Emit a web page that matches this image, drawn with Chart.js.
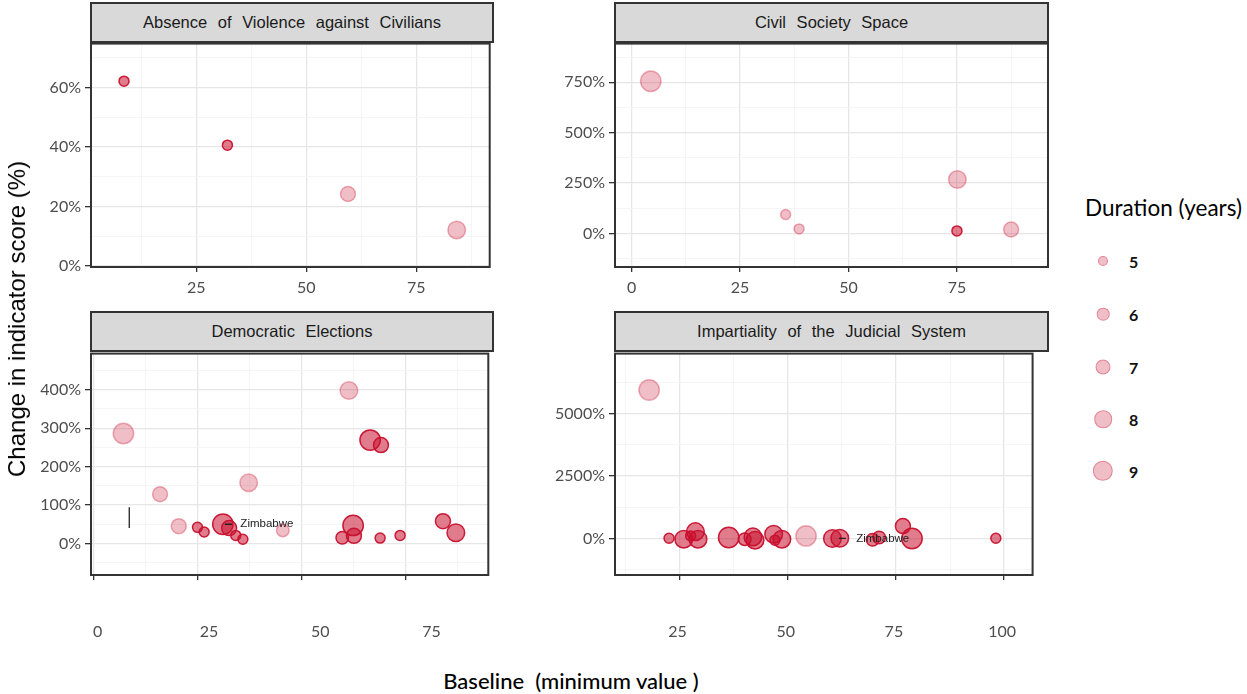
<!DOCTYPE html>
<html>
<head>
<meta charset="utf-8">
<script src="https://cdn.jsdelivr.net/npm/chart.js@4.4.1/dist/chart.umd.min.js"></script>
<style>
html,body{margin:0;padding:0;background:#fff;}
body{width:1247px;height:694px;position:relative;overflow:hidden;font-family:Lato,"Open Sans",sans-serif;}
canvas{position:absolute;}
.strip{position:absolute;box-sizing:border-box;border:2px solid #333;background:#D9D9D9;font-family:"Liberation Sans",Arial,sans-serif;font-size:16.5px;color:#1a1a1a;display:flex;align-items:center;justify-content:center;word-spacing:6px;z-index:2;white-space:pre;}
#ytitle{position:absolute;left:17px;top:319px;transform:translate(-50%,-50%) rotate(-90deg);font-family:"Liberation Sans",Arial,sans-serif;font-size:24px;color:#000;white-space:nowrap;}
#xtitle{position:absolute;left:571px;top:680px;transform:translate(-50%,-50%);font-family:Lato,sans-serif;font-size:22px;font-weight:500;color:#000;white-space:pre;}
#legtitle{position:absolute;left:1085px;top:207px;transform:translateY(-50%);font-family:Lato,sans-serif;font-size:22.5px;color:#000;white-space:nowrap;}
.legkey{position:absolute;box-sizing:border-box;border-radius:50%;transform:translate(-50%,-50%);}
.leglab{position:absolute;transform:translateY(-50%);font-family:Lato,sans-serif;font-size:16px;font-weight:700;color:#111;}
</style>
</head>
<body>
<canvas id="c1"></canvas>
<canvas id="c2"></canvas>
<canvas id="c3"></canvas>
<canvas id="c4"></canvas>
<div id="ytitle">Change in indicator score (%)</div>
<div id="xtitle">Baseline  (minimum value )</div>
<div id="legtitle">Duration (years)</div>
<div id="legend"></div>
<script>
// ---------------- DATA ----------------
const panelTitles = ["Absence of Violence against Civilians", "Civil Society Space", "Democratic Elections", "Impartiality of the Judicial System"];

const violenceBaseline  = [8.6, 32.1, 59.5, 84.2];
const violenceChange    = [62.1, 40.6, 24.2, 12.1];
const violenceDuration  = [5, 5, 7, 8];
const violenceHighlight = [1, 1, 0, 0];

const civilBaseline  = [4.4, 35.5, 38.6, 75.1, 75.0, 87.5];
const civilChange    = [755, 94, 23, 268, 13, 20];
const civilDuration  = [9, 5, 5, 8, 5, 7];
const civilHighlight = [0, 0, 0, 0, 1, 0];

const electionsBaseline  = [7.2, 16.0, 20.5, 37.3, 45.5, 61.4, 25.0, 26.6, 31.1, 32.6, 34.2, 35.9, 59.8, 62.4, 62.6, 66.5, 68.9, 69.1, 73.7, 84.0, 87.1];
const electionsChange    = [286, 128, 45, 158, 34, 398, 42, 30, 50, 40, 21, 11, 15, 47, 20, 269, 14, 256, 21, 58, 28];
const electionsDuration  = [9, 7, 7, 8, 6, 8, 5, 5, 9, 7, 5, 5, 6, 9, 7, 9, 5, 7, 5, 7, 8];
const electionsHighlight = [0, 0, 0, 0, 0, 0, 1, 1, 1, 1, 1, 1, 1, 1, 1, 1, 1, 1, 1, 1, 1];

const judicialBaseline  = [17.9, 22.5, 25.9, 27.5, 28.6, 29.2, 36.3, 40.0, 41.9, 42.4, 46.7, 47.0, 48.6, 54.2, 60.3, 62.0, 69.6, 71.1, 76.6, 78.7, 98.1];
const judicialChange    = [5948, 10, -26, 105, 276, -26, 40, -26, 66, -66, 171, -66, -26, 105, 0, 13, -50, 40, 500, 0, 13];
const judicialDuration  = [9, 5, 8, 5, 8, 8, 9, 6, 8, 8, 8, 5, 8, 9, 8, 8, 6, 6, 7, 9, 5];
const judicialHighlight = [0, 1, 1, 1, 1, 1, 1, 1, 1, 1, 1, 1, 1, 0, 1, 1, 1, 1, 1, 1, 1];

// label-repel segments [x0, y0, x1, y1] and labels
const electionsSegments = [[8.6, 40, 8.6, 94], [31.6, 50, 33.3, 50]];
const electionsLabels   = [["Zimbabwe", 35.3, 50]];
const judicialSegments  = [[61.8, 8, 63.4, 8]];
const judicialLabels    = [["Zimbabwe", 65.8, 8]];

const durationLevels = [5, 6, 7, 8, 9];

// ---------------- STYLE ----------------
const radiusFor = d => ({5: 5, 6: 6.3, 7: 7.5, 8: 8.8, 9: 10.2})[d];
const DARK_FILL = 'rgba(200,16,46,0.55)', DARK_LINE = 'rgba(200,16,46,0.95)';
const LIGHT_FILL = 'rgba(200,16,46,0.27)', LIGHT_LINE = 'rgba(200,16,46,0.33)';
const TICK_FONT = {family: 'Lato', size: 16};

const panels = [
  {canvas: 'c1', title: panelTitles[0], baseline: violenceBaseline, change: violenceChange, duration: violenceDuration, highlight: violenceHighlight,
   segments: [], labels: [], xMin: 1.1, xMax: 91.7, yMin: -0.3, yMax: 74.7, yStep: 10, yMajor: 20,
   box: {l: 91, t: 42, r: 493, b: 267}, cv: {l: 0, t: 30, w: 500, h: 280}, bottomRow: false},
  {canvas: 'c2', title: panelTitles[1], baseline: civilBaseline, change: civilChange, duration: civilDuration, highlight: civilHighlight,
   segments: [], labels: [], xMin: -3.85, xMax: 96, yMin: -166, yMax: 942, yStep: 125, yMajor: 250,
   box: {l: 615, t: 42, r: 1048, b: 267}, cv: {l: 520, t: 30, w: 540, h: 280}, bottomRow: false},
  {canvas: 'c3', title: panelTitles[2], baseline: electionsBaseline, change: electionsChange, duration: electionsDuration, highlight: electionsHighlight,
   segments: electionsSegments, labels: electionsLabels, xMin: -0.6, xMax: 94.9, yMin: -82, yMax: 494, yStep: 50, yMajor: 100,
   x2Min: -1.51, x2Max: 87.76,
   box: {l: 91, t: 351, r: 493, b: 575}, cv: {l: 0, t: 340, w: 500, h: 320}, bottomRow: true},
  {canvas: 'c4', title: panelTitles[3], baseline: judicialBaseline, change: judicialChange, duration: judicialDuration, highlight: judicialHighlight,
   segments: judicialSegments, labels: judicialLabels, xMin: 10.0, xMax: 106.6, yMin: -1461, yMax: 7408, yStep: 1250, yMajor: 2500,
   x2Min: 10.55, x2Max: 107.05,
   box: {l: 615, t: 351, r: 1048, b: 575}, cv: {l: 520, t: 340, w: 540, h: 320}, bottomRow: true}
];

const framePlugin = {
  id: 'frame',
  afterDraw(chart) {
    const {ctx, chartArea: a} = chart;
    ctx.save();
    ctx.strokeStyle = '#333';
    ctx.lineWidth = 2;
    ctx.strokeRect(a.left, a.top, a.right - a.left, a.bottom - a.top);
    ctx.restore();
  }
};
const textPlugin = {
  id: 'pointText',
  afterDatasetsDraw(chart, args, opts) {
    const items = opts.items || [];
    const {ctx} = chart;
    ctx.save();
    ctx.font = '11.5px "Liberation Sans", Arial, sans-serif';
    ctx.fillStyle = '#222';
    ctx.textAlign = 'left';
    ctx.textBaseline = 'middle';
    items.forEach(([t, x, y]) => {
      ctx.fillText(t, chart.scales.x.getPixelForValue(x), chart.scales.y.getPixelForValue(y));
    });
    ctx.restore();
  }
};

function isMajor(v, m) { return Math.abs(v / m - Math.round(v / m)) < 1e-6; }
function stepTicks(min, max, step) {
  const out = [];
  for (let k = Math.ceil(min / step - 1e-9); k * step <= max + 1e-9; k++) {
    out.push({value: Math.round(k * step * 1000) / 1000});
  }
  return out;
}

function makeChart(p) {
  const cv = document.getElementById(p.canvas);
  cv.width = p.cv.w; cv.height = p.cv.h;
  cv.style.left = p.cv.l + 'px'; cv.style.top = p.cv.t + 'px';

  // strip
  const s = document.createElement('div');
  s.className = 'strip';
  s.textContent = p.title;
  s.style.left = (p.box.l - 1) + 'px';
  s.style.width = (p.box.r - p.box.l + 2) + 'px';
  s.style.top = (p.box.t - 40) + 'px';
  s.style.height = '41px';
  document.body.appendChild(s);

  const datasets = [];
  p.segments.forEach(sg => datasets.push({
    type: 'line', data: [{x: sg[0], y: sg[1]}, {x: sg[2], y: sg[3]}], showLine: true,
    borderColor: '#222', borderWidth: 1.3, pointRadius: 0, pointHoverRadius: 0, fill: false, order: 0
  }));
  datasets.push({
    type: 'scatter',
    data: p.baseline.map((x, i) => ({x: x, y: p.change[i]})),
    pointRadius: p.duration.map(radiusFor),
    pointHoverRadius: p.duration.map(radiusFor),
    pointBackgroundColor: p.highlight.map(h => h ? DARK_FILL : LIGHT_FILL),
    pointBorderColor: p.highlight.map(h => h ? DARK_LINE : LIGHT_LINE),
    pointBorderWidth: 1.5,
    order: 1
  });

  const xh = p.bottomRow ? 5 : 35;
  const x2h = p.bottomRow ? 60 : 0;
  const yWidth = p.box.l - p.cv.l;
  const gridX = {
    color: c => isMajor(c.tick.value, 25) ? '#E6E6E6' : '#F3F3F3',
    lineWidth: c => isMajor(c.tick.value, 25) ? 1.3 : 0.8,
    tickColor: c => isMajor(c.tick.value, 25) ? '#333' : 'rgba(0,0,0,0)',
    tickLength: 5, drawTicks: true
  };
  const gridY = {
    color: c => isMajor(c.tick.value, p.yMajor) ? '#E6E6E6' : '#F3F3F3',
    lineWidth: c => isMajor(c.tick.value, p.yMajor) ? 1.3 : 0.8,
    tickColor: c => isMajor(c.tick.value, p.yMajor) ? '#333' : 'rgba(0,0,0,0)',
    tickLength: 6, drawTicks: true
  };
  const scales = {
    x: {
      type: 'linear', position: 'bottom', min: p.xMin, max: p.xMax,
      afterBuildTicks: sc => { sc.ticks = stepTicks(p.xMin, p.xMax, 12.5); },
      afterFit: sc => { sc.height = xh; },
      ticks: {display: !p.bottomRow, autoSkip: false, maxRotation: 0,
              padding: 6, color: '#4D4D4D', font: TICK_FONT,
              callback: v => isMajor(v, 25) ? String(v) : ''},
      grid: gridX, border: {display: false}
    },
    y: {
      type: 'linear', position: 'left', min: p.yMin, max: p.yMax,
      afterBuildTicks: sc => { sc.ticks = stepTicks(p.yMin, p.yMax, p.yStep); },
      afterFit: sc => { sc.width = yWidth; },
      ticks: {autoSkip: false, padding: 4, color: '#4D4D4D', font: TICK_FONT,
              callback: v => isMajor(v, p.yMajor) ? Math.round(v) + '%' : ''},
      grid: gridY, border: {display: false}
    }
  };
  if (p.bottomRow) {
    scales.x2 = {
      type: 'linear', position: 'bottom', weight: 1, min: p.x2Min, max: p.x2Max,
      afterBuildTicks: sc => { sc.ticks = stepTicks(p.x2Min, p.x2Max, 25); },
      afterFit: sc => { sc.height = x2h; },
      grid: {display: false, drawTicks: false}, border: {display: false},
      ticks: {autoSkip: false, maxRotation: 0, padding: 42,
              color: '#4D4D4D', font: TICK_FONT, callback: v => String(v)}
    };
  }
  new Chart(cv, {
    type: 'scatter',
    data: {datasets: datasets},
    options: {
      responsive: false, animation: false, devicePixelRatio: 1,
      layout: {padding: {left: 0, top: p.box.t - p.cv.t, right: p.cv.l + p.cv.w - p.box.r,
                         bottom: p.cv.t + p.cv.h - p.box.b - xh - x2h}},
      plugins: {legend: {display: false}, tooltip: {enabled: false}, pointText: {items: p.labels}},
      scales: scales
    },
    plugins: [framePlugin, textPlugin]
  });
}
panels.forEach(makeChart);

// legend
const legYs = [261, 314, 367, 419, 471];
const leg = document.getElementById('legend');
durationLevels.forEach((d, i) => {
  const r = radiusFor(d);
  const k = document.createElement('div');
  k.className = 'legkey';
  k.style.left = '1103px'; k.style.top = legYs[i] + 'px';
  k.style.width = (2 * r) + 'px'; k.style.height = (2 * r) + 'px';
  k.style.background = LIGHT_FILL; k.style.border = '1.5px solid ' + LIGHT_LINE;
  leg.appendChild(k);
  const l = document.createElement('div');
  l.className = 'leglab';
  l.style.left = '1129px'; l.style.top = legYs[i] + 'px';
  l.textContent = String(d);
  leg.appendChild(l);
});
</script>
</body>
</html>
